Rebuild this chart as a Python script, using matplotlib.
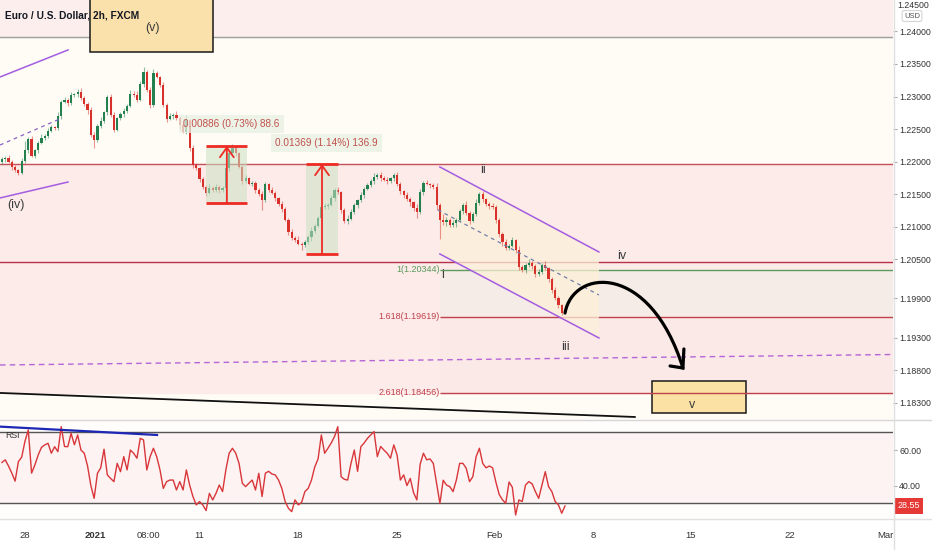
import numpy as np
import matplotlib
matplotlib.use('Agg')
import matplotlib.pyplot as plt
from matplotlib.patches import Rectangle, Polygon, PathPatch
from matplotlib.path import Path
from matplotlib.lines import Line2D

plt.rcParams['font.family'] = ['Liberation Sans', 'DejaVu Sans']

# ---------------- data (4h-bar index, price) ----------------
bar0 = -7
first_open = 1.2200
closes = [
    1.2204, 1.2206, 1.2200, 1.2192, 1.2187, 1.2183, 1.2201, 1.2218, 1.2235, 1.2209,
    1.2218, 1.2229, 1.2237, 1.2240, 1.2247, 1.2253, 1.2252, 1.2270, 1.2292, 1.2295,
    1.2290, 1.2302, 1.2304, 1.2307, 1.2298, 1.2289, 1.2279, 1.2241, 1.2233, 1.2255,
    1.2262, 1.2276, 1.2299, 1.2272, 1.2249, 1.2267, 1.2273, 1.2278, 1.2286, 1.2304,
    1.2302, 1.2295, 1.2319, 1.2338, 1.2310, 1.2287, 1.2336, 1.2330, 1.2318, 1.2287,
    1.2266, 1.2270, 1.2272, 1.2267, 1.2256, 1.2246, 1.2264, 1.2221, 1.2195, 1.2190,
    1.2173, 1.2161, 1.2152, 1.2160, 1.2157, 1.2161, 1.2157, 1.2160, 1.2190, 1.2213,
    1.2221, 1.2213, 1.2192, 1.2170, 1.2175, 1.2166, 1.2167, 1.2157, 1.2150, 1.2141,
    1.2166, 1.2157, 1.2152, 1.2144, 1.2135, 1.2127, 1.2111, 1.2092, 1.2083, 1.2080,
    1.2074, 1.2072, 1.2077, 1.2084, 1.2094, 1.2101, 1.2114, 1.2130, 1.2132, 1.2134,
    1.2144, 1.2157, 1.2153, 1.2126, 1.2109, 1.2112, 1.2123, 1.2134, 1.2141, 1.2149,
    1.2158, 1.2164, 1.2170, 1.2176, 1.2180, 1.2175, 1.2172, 1.2170, 1.2175, 1.2180,
    1.2166, 1.2155, 1.2149, 1.2143, 1.2138, 1.2129, 1.2123, 1.2154, 1.2167, 1.2166,
    1.2164, 1.2161, 1.2134, 1.2111, 1.2107, 1.2111, 1.2103, 1.2106, 1.2111, 1.2124,
    1.2134, 1.2121, 1.2109, 1.2120, 1.2137, 1.2151, 1.2143, 1.2135, 1.2132, 1.2130,
    1.2111, 1.2089, 1.2077, 1.2068, 1.2071, 1.2080, 1.2065, 1.2038, 1.2034, 1.2041,
    1.2045, 1.2040, 1.2028, 1.2031, 1.2041, 1.2037, 1.2020, 1.2003, 1.1991, 1.1980,
    1.1968, 1.1971,
]
# wick extensions in pips beyond the candle body
wick_hi = [
    3, 2, 4, 2, 3, 2, 5, 14, 3, 4, 2, 3, 5, 2, 4, 3, 2, 6, 3, 4,
    3, 5, 2, 4, 6, 3, 2, 5, 4, 3, 6, 2, 3, 5, 4, 2, 3, 4, 3, 6,
    4, 7, 5, 8, 3, 4, 7, 3, 2, 5, 3, 4, 2, 6, 3, 4, 7, 2, 4, 3,
    2, 4, 3, 5, 2, 4, 3, 2, 5, 3, 6, 4, 2, 3, 5, 2, 4, 3, 2, 5,
    3, 2, 4, 3, 2, 5, 3, 2, 4, 3, 6, 2, 3, 4, 5, 3, 2, 6, 4, 3,
    5, 3, 4, 2, 3, 6, 4, 3, 2, 5, 3, 4, 3, 6, 2, 4, 3, 5, 2, 3,
    4, 3, 2, 5, 3, 2, 6, 4, 3, 5, 2, 4, 6, 3, 8, 4, 3, 5, 2, 4,
    3, 6, 4, 2, 5, 3, 4, 2, 3, 5, 4, 2, 3, 5, 3, 4, 2, 6, 3, 4,
    5, 2, 3, 4, 3, 6, 2, 3, 4, 3, 2, 3,
]
wick_lo = [
    3, 4, 2, 5, 3, 4, 2, 3, 4, 2, 3, 5, 2, 4, 3, 2, 4, 3, 5, 2,
    4, 3, 2, 5, 3, 4, 6, 3, 12, 3, 4, 2, 5, 3, 4, 2, 3, 5, 3, 2,
    3, 4, 2, 5, 3, 4, 3, 2, 4, 3, 5, 2, 4, 3, 6, 2, 3, 4, 5, 3,
    4, 3, 5, 2, 4, 3, 5, 3, 2, 4, 3, 5, 2, 4, 3, 2, 4, 5, 3, 15,
    3, 4, 2, 5, 3, 4, 2, 5, 3, 4, 2, 8, 3, 4, 6, 3, 2, 4, 3, 5,
    2, 4, 3, 5, 3, 4, 2, 3, 5, 3, 4, 2, 3, 4, 3, 5, 2, 4, 3, 4,
    3, 5, 4, 3, 6, 4, 9, 3, 5, 2, 4, 3, 8, 30, 4, 5, 3, 4, 6, 3,
    4, 3, 5, 2, 4, 3, 5, 3, 4, 2, 5, 4, 6, 3, 4, 2, 5, 4, 3, 5,
    3, 4, 5, 3, 4, 3, 4, 5, 3, 4, 3, 2,
]
rsi = [
    53, 54.5, 51, 47, 42.5, 53.5, 56, 65, 71.3, 47,
    51.6, 57.2, 61.5, 62.9, 63.8, 58.2, 61.9, 59.1, 73.2, 62,
    61.9, 69.4, 63, 68.5, 60, 58.2, 51, 40, 32.8, 46.9,
    50, 60.5, 46, 44, 42.2, 52.5, 47.8, 56.3, 48.8, 60,
    58.2, 55.4, 66.6, 65.7, 48.8, 56.3, 61, 56.3, 48.8, 38.4,
    42.2, 43.1, 43.1, 37.5, 42.2, 37.5, 48.8, 40.3, 33.8, 29.1,
    31, 29.1, 25.9, 35.6, 31.9, 35.6, 40.3, 36.6, 48.8, 58.2,
    61, 58.2, 52.5, 41.3, 39.4, 41.3, 43.1, 37.5, 46.9, 33.8,
    47, 48, 46.5, 46, 43.1, 38.4, 31, 27.2, 25.3, 31.9,
    29.1, 30.5, 36.6, 38.4, 43.1, 50.5, 55, 68.5, 58.2, 61,
    64, 67.6, 73.2, 45, 43.5, 43.1, 52.5, 60, 48, 61.9,
    64, 66.6, 68.5, 70.4, 56.3, 62, 60, 58.2, 55.4, 62.9,
    57.2, 43.1, 46, 40, 44, 36, 31.9, 52, 58.2, 54.5,
    55, 52.5, 41.3, 30, 43, 40.3, 39.4, 36.6, 43.1, 52.5,
    52.5, 49.7, 42.2, 45, 56.3, 61, 52.5, 50, 51, 50,
    42, 35, 32, 30, 42, 39, 23.4, 31.9, 31, 40.3,
    42.2, 41, 36.6, 32.8, 40.3, 47.8, 39.4, 36.6, 31, 29.1,
    24.4, 28.5,
]
rsi_last = 28.55

price_ticks = [1.240, 1.235, 1.230, 1.225, 1.220, 1.215, 1.210, 1.205,
               1.199, 1.193, 1.188, 1.183]
time_tick_pos = [0, 21.3, 37.4, 52.8, 82.9, 113.0, 142.4, 172.5, 202.2, 232.3, 261.2]
time_tick_lab = ['28', '2021', '08:00', '11', '18', '25', 'Feb', '8', '15', '22', 'Mar']

level_grey = 1.2392
level_red_hi = 1.21965
level_red_lo = 1.20456
fib_levels = [1.20344, 1.19619, 1.18456]
fib_texts = ['1(1.20344)', '1.618(1.19619)', '2.618(1.18456)']
fib_start = 126.0

# drawing anchors (bar, price)
chan1_up = [(-7.59, 1.23300), (13.06, 1.23715)]
chan1_lo = [(-7.59, 1.21443), (13.06, 1.21688)]
chan1_mid = [(-7.59, 1.22256), (11.24, 1.22671)]
chan2_up = [(126.0, 1.21919), (174.3, 1.20614)]
chan2_lo = [(126.0, 1.20583), (174.3, 1.19294)]
chan2_mid = [(125.4, 1.21259), (174.3, 1.19954)]
purple_dash = [(-7.59, 1.18879), (263.6, 1.19040)]
black_trend = [(-7.59, 1.18450), (185.2, 1.18081)]
arrow_curve = [(164.0, 1.19677), (166.4, 1.20368), (189.8, 1.20460), (199.8, 1.18833)]
arrow_head = [(195.9, 1.18864), (199.8, 1.18833), (200.1, 1.19125)]
box_v_big = (19.74, 1.23684, 57.1, 1.2460)
box_v_small = (190.4, 1.18143, 218.9, 1.18634)
measure1 = (55.0, 1.21366, 67.4, 1.22241, 61.3)
measure2 = (85.3, 1.20583, 95.0, 1.21965, 90.2)
measure_txt = [(48.0, 1.22579, '0.00886 (0.73%) 88.6'),
               (75.9, 1.22287, '0.01369 (1.14%) 136.9')]
waves = [(-2.7, 1.21335, '(iv)'), (38.6, 1.24052, '(v)'), (139.1, 1.21873, 'ii'),
         (126.9, 1.20261, 'i'), (164.0, 1.19156, 'iii'), (181.3, 1.20552, 'iv'),
         (202.6, 1.18265, 'v')]
rsi_trend = [(-7.59, 73.2), (40.1, 68.5)]

# ---------------- figure ----------------
W, H = 932, 550
fig = plt.figure(figsize=(W / 100, H / 100), dpi=100, facecolor='white')
fx = lambda px: px / W
fy = lambda py: 1 - py / H

XMIN, XMAX = -7.59, 263.6
ax = fig.add_axes([0, fy(419), fx(893), 419 / H])
ax.set_xlim(XMIN, XMAX)
ax.set_ylim(1.1805, 1.24482)
ax.set_facecolor('#fffcf6')
for s in ax.spines.values():
    s.set_visible(False)

# backgrounds
ax.axhspan(level_grey, 1.25, color='#fbeeec', zorder=0)
ax.axhspan(fib_levels[2], level_red_hi, color='#fcebe9', zorder=0)
ax.add_patch(Rectangle((fib_start, fib_levels[1]), XMAX - fib_start,
                       fib_levels[0] - fib_levels[1], fc='#f6ece7', ec='none', zorder=0.2))
ax.add_patch(Rectangle((fib_start, fib_levels[2]), XMAX - fib_start,
                       fib_levels[1] - fib_levels[2], fc='#fbe9e8', ec='none', zorder=0.2))

# small v box under lines
x0, y0, x1, y1 = box_v_small
ax.add_patch(Rectangle((x0, y0), x1 - x0, y1 - y0, fc='#fbe2a4', ec='#1a1a1a', lw=1.1, zorder=0.8))

# horizontal levels
ax.axhline(level_grey, color='#9e9e9e', lw=1, zorder=1)
ax.axhline(level_red_hi, color='#c4505c', lw=1, zorder=1)
ax.axhline(level_red_lo, color='#b8334a', lw=1, zorder=1)
fib_cols = ['#5c9a5c', '#c0404c', '#c0404c']
for lv, txt, c in zip(fib_levels, fib_texts, fib_cols):
    ax.hlines(lv, fib_start, XMAX, colors=c, lw=1, zorder=1)
    ax.text(fib_start, lv, txt, ha='right', va='center', fontsize=6.5,
            color=c, zorder=5)

# channel fill
ax.add_patch(Polygon([chan2_up[0], chan2_up[1], chan2_lo[1], chan2_lo[0]],
                     closed=True, fc='#fdf0d8', ec='none', alpha=0.75, zorder=2))

# candles
n = len(closes)
bars = np.arange(bar0, bar0 + n)
c_arr = np.array(closes)
o_arr = np.array([first_open] + closes[:-1])
hi = np.maximum(o_arr, c_arr) + np.array(wick_hi) * 1e-4
lo = np.minimum(o_arr, c_arr) - np.array(wick_lo) * 1e-4
up = c_arr >= o_arr
cols = np.where(up, '#23804f', '#d8312c')
ax.vlines(bars, lo, hi, colors=cols, lw=0.8, alpha=0.5, zorder=3)
body = np.where(np.abs(c_arr - o_arr) < 0.00012, 0.00012 * np.where(up, 1, -1), c_arr - o_arr)
ax.bar(bars, body, bottom=o_arr, width=0.66, color=cols, lw=0, zorder=3.2)

# purple channels
pc = '#a45de0'
for seg in (chan1_up, chan1_lo, chan2_up, chan2_lo):
    ax.plot(*zip(*seg), color=pc, lw=1.1, zorder=4)
ax.plot(*zip(*chan1_mid), color='#8a63c9', lw=0.9, ls=(0, (3, 3)), zorder=4)
ax.plot(*zip(*chan2_mid), color='#6f7ea6', lw=0.9, ls=(0, (3, 3)), zorder=4)
ax.plot(*zip(*purple_dash), color='#b565d8', lw=1, ls=(0, (4, 3)), zorder=4)
ax.plot(*zip(*black_trend), color='#111111', lw=1.3, zorder=4)

# big (v) box
x0, y0, x1, y1 = box_v_big
ax.add_patch(Rectangle((x0, y0), x1 - x0, y1 - y0, fc='#fae0aa', ec='#1a1a1a', lw=1.1, zorder=4))

# measurement boxes
for (mx0, my0, mx1, my1, mxa) in (measure1, measure2):
    ax.add_patch(Rectangle((mx0, my0), mx1 - mx0, my1 - my0, fc='#c9e2c2', ec='none',
                           alpha=0.55, zorder=3.5))
    ax.hlines([my0, my1], mx0, mx1, colors='#ee2a24', lw=2, zorder=4.5)
    ax.annotate('', xy=(mxa, my1), xytext=(mxa, my0),
                arrowprops=dict(arrowstyle='->,head_length=0.7,head_width=0.5',
                                color='#ee2a24', lw=1.3, shrinkA=0, shrinkB=0), zorder=4.5)
for tx, ty, tt in measure_txt:
    ax.text(tx, ty, tt, fontsize=7.2, color='#c0504d', va='center', ha='left', zorder=5,
            bbox=dict(fc='#e9f1e3', ec='none', alpha=0.75, pad=3))

# arrow curve
path = Path(arrow_curve, [Path.MOVETO, Path.CURVE4, Path.CURVE4, Path.CURVE4])
ax.add_patch(PathPatch(path, fc='none', ec='black', lw=2.3, zorder=5, capstyle='round'))
ax.plot(*zip(*arrow_head), color='black', lw=2.3, zorder=5, solid_capstyle='round',
        solid_joinstyle='miter')

# wave labels
for wx, wy, wt in waves:
    ax.text(wx, wy, wt, fontsize=9, color='#3c3c3c', ha='center', va='center', zorder=6)

# price axis
ax.yaxis.tick_right()
ax.set_yticks(price_ticks)
ax.set_yticklabels(['%.5f' % v for v in price_ticks])
ax.tick_params(axis='y', labelsize=6.3, labelcolor='#333333', color='#aaaaaa', length=3,
               width=0.8, pad=1.5)
ax.set_xticks([])

# ---------------- RSI panel ----------------
axr = fig.add_axes([0, fy(518), fx(893), 98 / H])
axr.set_xlim(XMIN, XMAX)
axr.set_ylim(21.72, 76.93)
axr.set_facecolor('#fffdfb')
for s in axr.spines.values():
    s.set_visible(False)
axr.axhspan(30, 70, color='#fdf3f2', zorder=0)
axr.axhline(70, color='#555555', lw=1, zorder=1)
axr.axhline(30, color='#555555', lw=1, zorder=1)
axr.plot(bars, rsi, color='#d8363a', lw=1, zorder=3)
axr.plot(*zip(*rsi_trend), color='#1d27b5', lw=1.6, zorder=4)
axr.yaxis.tick_right()
axr.set_yticks([60, 40])
axr.set_yticklabels(['60.00', '40.00'])
axr.tick_params(axis='y', labelsize=6.3, labelcolor='#333333', color='#aaaaaa', length=3,
                width=0.8, pad=1.5)
axr.set_xticks(time_tick_pos)
axr.set_xticklabels(time_tick_lab)
axr.tick_params(axis='x', labelsize=6.8, labelcolor='#333333', length=0, pad=9)
for lab in axr.get_xticklabels():
    if lab.get_text() == '2021':
        lab.set_fontweight('bold')
axr.annotate('%.2f' % rsi_last, xy=(1, rsi_last), xycoords=('axes fraction', 'data'),
             xytext=(3, 0), textcoords='offset points', fontsize=6.5, color='white',
             va='center', ha='left', annotation_clip=False,
             bbox=dict(fc='#e53935', ec='none', pad=2.5))

# texts on figure
fig.text(fx(5), fy(15), 'Euro / U.S. Dollar, 2h, FXCM', fontsize=7.3, fontweight='bold',
         color='#131722', ha='left', va='center')
fig.text(fx(5), fy(436), 'RSI', fontsize=6.3, color='#333333', ha='left', va='center')
fig.text(fx(897), fy(5), '1.24500', fontsize=6.3, color='#333333', ha='left', va='center')
fig.text(fx(912), fy(16), 'USD', fontsize=5.5, color='#555555', ha='center', va='center',
         bbox=dict(boxstyle='round,pad=0.25', fc='white', ec='#d0d0d0', lw=0.7))

# panel separators
fig.add_artist(Line2D([0, 1], [fy(419.5), fy(419.5)], color='#d6d6d6', lw=1))
fig.add_artist(Line2D([0, 1], [fy(518.5), fy(518.5)], color='#e0e0e0', lw=1))
fig.add_artist(Line2D([fx(893.5), fx(893.5)], [0, 1], color='#e0e0e0', lw=1))

fig.savefig('out.png', dpi=100, facecolor='white')
